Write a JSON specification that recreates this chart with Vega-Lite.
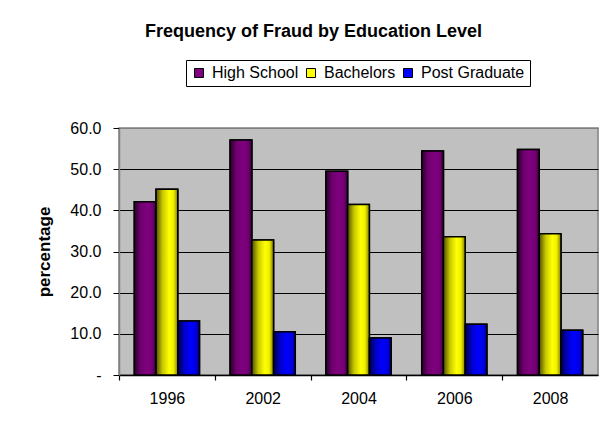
{
  "$schema": "https://vega.github.io/schema/vega-lite/v6.json",
  "width": 479,
  "height": 247,
  "autosize": {"type": "none"},
  "padding": {"left": 119, "top": 128, "right": 7, "bottom": 58},
  "background": "white",
  "config": {
    "font": "Liberation Sans",
    "view": {"fill": "#C0C0C0", "stroke": "#808080", "strokeWidth": 1.5}
  },
  "title": {
    "text": "Frequency of Fraud by Education Level",
    "font": "Liberation Sans",
    "fontSize": 18,
    "fontWeight": "bold",
    "color": "black",
    "anchor": "middle",
    "frame": "group",
    "baseline": "alphabetic",
    "dx": -45,
    "offset": 5
  },
  "data": {
    "values": [
      {"year": "1996", "level": "High School", "value": 42.1},
      {"year": "1996", "level": "Bachelors", "value": 45.1},
      {"year": "1996", "level": "Post Graduate", "value": 13.1},
      {"year": "2002", "level": "High School", "value": 57.1},
      {"year": "2002", "level": "Bachelors", "value": 32.8},
      {"year": "2002", "level": "Post Graduate", "value": 10.5},
      {"year": "2004", "level": "High School", "value": 49.5},
      {"year": "2004", "level": "Bachelors", "value": 41.4},
      {"year": "2004", "level": "Post Graduate", "value": 9.0},
      {"year": "2006", "level": "High School", "value": 54.4},
      {"year": "2006", "level": "Bachelors", "value": 33.6},
      {"year": "2006", "level": "Post Graduate", "value": 12.3},
      {"year": "2008", "level": "High School", "value": 54.8},
      {"year": "2008", "level": "Bachelors", "value": 34.3},
      {"year": "2008", "level": "Post Graduate", "value": 10.9}
    ]
  },
  "layer": [
    {
      "mark": {"type": "bar", "stroke": "black", "strokeWidth": 1.5},
      "encoding": {
        "x": {
          "field": "year",
          "type": "nominal",
          "scale": {"paddingInner": 0.32, "paddingOuter": 0.16},
          "axis": {
            "title": null,
            "labelAngle": 0,
            "labelFontSize": 16,
            "labelColor": "black",
            "labelPadding": 10,
            "ticks": true,
            "tickSize": 5,
            "tickColor": "black",
            "tickWidth": 1.2,
            "tickOffset": -48,
            "labelOffset": 48,
            "domain": true,
            "domainColor": "black",
            "domainWidth": 1.5,
            "grid": false
          }
        },
        "xOffset": {
          "field": "level",
          "sort": ["High School", "Bachelors", "Post Graduate"],
          "scale": {"paddingInner": 0}
        },
        "y": {
          "field": "value",
          "type": "quantitative",
          "scale": {"domain": [0, 60]},
          "axis": {
            "title": "percentage",
            "titleFontSize": 17,
            "titleFontWeight": "bold",
            "titleColor": "black",
            "titleX": -66,
            "values": [0, 10, 20, 30, 40, 50, 60],
            "labelExpr": "datum.value == 0 ? '-' : format(datum.value, '.1f')",
            "labelFontSize": 16,
            "labelColor": "black",
            "labelPadding": 12,
            "tickColor": "black",
            "tickSize": 6,
            "domainColor": "#808080",
            "domainWidth": 1.5,
            "grid": true,
            "gridColor": {"condition": {"test": "datum.value === 60 || datum.value === 0", "value": "#808080"}, "value": "black"},
            "gridWidth": 1.2
          }
        },
        "color": {
          "field": "level",
          "type": "nominal",
          "sort": ["High School", "Bachelors", "Post Graduate"],
          "scale": {
            "domain": ["High School", "Bachelors", "Post Graduate"],
            "range": ["#800080", "#FFFF00", "#0000FF"]
          },
          "legend": {
            "orient": "none",
            "legendX": 67,
            "legendY": -68,
            "direction": "horizontal",
            "title": null,
            "strokeColor": "black",
            "fillColor": "white",
            "padding": 5,
            "symbolType": "square",
            "symbolSize": 81,
            "symbolStrokeColor": "black",
            "symbolStrokeWidth": 1,
            "labelFontSize": 16,
            "labelColor": "black",
            "labelOffset": 5,
            "columnPadding": 4
          }
        }
      }
    },
    {
      "mark": {"type": "bar", "stroke": "black", "strokeWidth": 1.5},
      "encoding": {
        "x": {"field": "year", "type": "nominal"},
        "xOffset": {
          "field": "level",
          "sort": ["High School", "Bachelors", "Post Graduate"]
        },
        "y": {"field": "value", "type": "quantitative"},
        "fill": {
          "condition": [
            {
              "test": "datum.level === 'High School'",
              "value": {
                "gradient": "linear", "x1": 0, "y1": 0, "x2": 1, "y2": 0,
                "stops": [
                  {"offset": 0, "color": "#2a002a"},
                  {"offset": 0.3, "color": "#700070"},
                  {"offset": 0.6, "color": "#800080"},
                  {"offset": 0.85, "color": "#700070"},
                  {"offset": 1, "color": "#300030"}
                ]
              }
            },
            {
              "test": "datum.level === 'Bachelors'",
              "value": {
                "gradient": "linear", "x1": 0, "y1": 0, "x2": 1, "y2": 0,
                "stops": [
                  {"offset": 0, "color": "#505000"},
                  {"offset": 0.3, "color": "#c8c800"},
                  {"offset": 0.6, "color": "#ffff00"},
                  {"offset": 0.8, "color": "#f0f000"},
                  {"offset": 1, "color": "#808000"}
                ]
              }
            }
          ],
          "value": {
            "gradient": "linear", "x1": 0, "y1": 0, "x2": 1, "y2": 0,
            "stops": [
              {"offset": 0, "color": "#000040"},
              {"offset": 0.3, "color": "#0000c8"},
              {"offset": 0.6, "color": "#0000ff"},
              {"offset": 0.85, "color": "#0000e0"},
              {"offset": 1, "color": "#000070"}
            ]
          }
        }
      }
    }
  ]
}
